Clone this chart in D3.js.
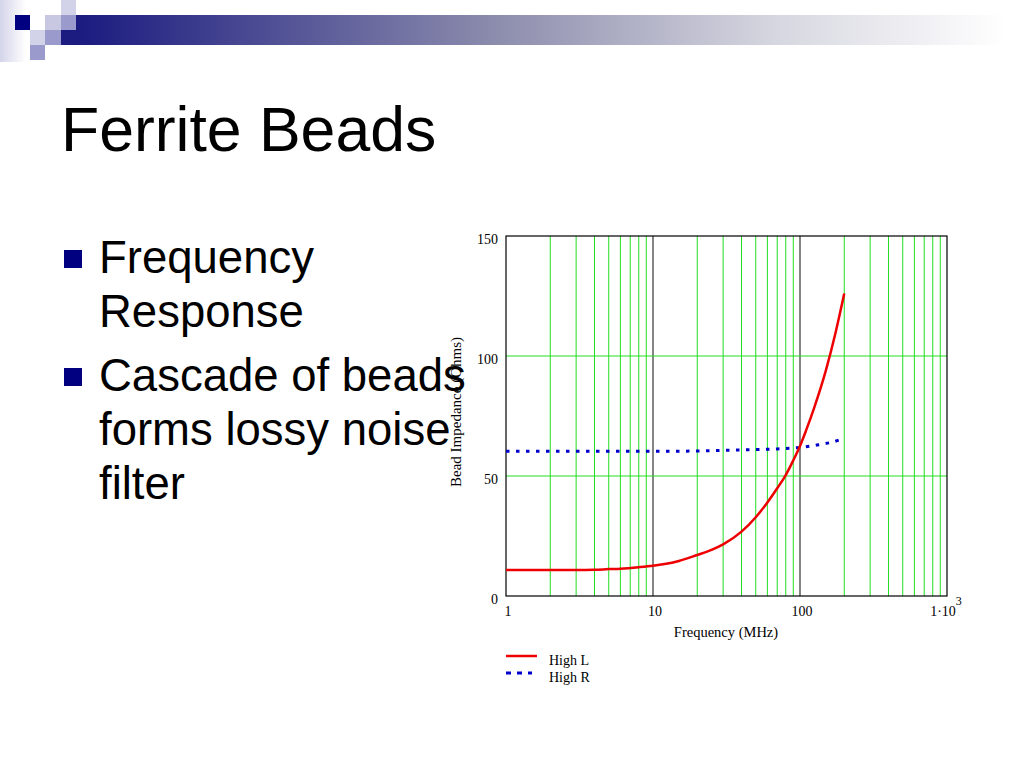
<!DOCTYPE html>
<html>
<head>
<meta charset="utf-8">
<script src="https://cdn.jsdelivr.net/npm/d3@7"></script>
<style>
  html, body { margin: 0; padding: 0; background: #fff; }
  svg { display: block; }
</style>
</head>
<body>
<svg id="slide" width="1024" height="768"></svg>
<script>
// data
const freqL = [1, 2, 3, 4, 5, 6, 8, 10, 12, 15, 20, 25, 30, 40, 50, 60, 70, 80, 90, 100, 110, 125, 150, 175, 200];
const highL = [10.8, 10.8, 10.8, 10.9, 11.2, 11.4, 12.0, 12.6, 13.3, 14.6, 17.1, 19.2, 21.5, 26.8, 32.8, 39.0, 44.9, 50.4, 56.5, 62.5, 69, 78.5, 94, 110, 126];
const freqR = [1, 5, 10, 20, 30, 50, 70, 100, 130, 160, 185];
const highR = [60.3, 60.3, 60.3, 60.4, 60.7, 61.0, 61.3, 61.9, 62.9, 63.9, 65.0];
const yTicks = [0, 50, 100, 150];
const xTicks = [1, 10, 100, 1000];
const seriesNames = ["High L", "High R"];
const bullets = [
  ["Frequency", "Response"],
  ["Cascade of beads", "forms lossy noise", "filter"]
];

const svg = d3.select("#slide");
const defs = svg.append("defs");

// ---- slide decoration (header bar + squares) ----
const barGrad = defs.append("linearGradient").attr("id", "bar").attr("x1", 0).attr("x2", 1).attr("y1", 0).attr("y2", 0);
barGrad.append("stop").attr("offset", 0).attr("stop-color", "#1a1a80");
barGrad.append("stop").attr("offset", 0.45).attr("stop-color", "#8c8cad");
barGrad.append("stop").attr("offset", 0.75).attr("stop-color", "#d6d6e0");
barGrad.append("stop").attr("offset", 1).attr("stop-color", "#ffffff");

const edgeGrad = defs.append("linearGradient").attr("id", "edge").attr("x1", 0).attr("x2", 1).attr("y1", 0).attr("y2", 0);
edgeGrad.append("stop").attr("offset", 0).attr("stop-color", "#d4d4ea");
edgeGrad.append("stop").attr("offset", 1).attr("stop-color", "#ffffff");

svg.append("rect").attr("x", 0).attr("y", 0).attr("width", 26).attr("height", 62).attr("fill", "url(#edge)");
svg.append("rect").attr("x", 76).attr("y", 15).attr("width", 930).attr("height", 30).attr("fill", "url(#bar)");

const squares = [
  [61, 0, "#d2d2e8"], [15, 15, "#000080"], [45, 15, "#c8c8e2"], [61, 15, "#9a9acc"],
  [30, 30, "#d2d2e8"], [45, 30, "#9a9acc"], [61, 30, "#1c1c80"], [30, 45, "#9a9acc"]
];
svg.selectAll("rect.sq").data(squares).join("rect")
  .attr("class", "sq")
  .attr("x", d => d[0]).attr("y", d => d[1])
  .attr("width", d => (d[0] === 45 ? 16 : 15)).attr("height", 15)
  .attr("fill", d => d[2]);

// ---- chart ----
const x = d3.scaleLog().domain([1, 1000]).range([506, 947]);
const y = d3.scaleLinear().domain([0, 150]).range([596, 236]);
const chart = svg.append("g");

// minor vertical grid lines (green) and decade lines (dark)
const minor = [];
[1, 10, 100].forEach(dec => { for (let k = 2; k <= 9; k++) minor.push(dec * k); });
chart.selectAll("line.vminor").data(minor).join("line")
  .attr("x1", d => x(d)).attr("x2", d => x(d))
  .attr("y1", y(0)).attr("y2", y(150))
  .attr("stroke", "#22dd22").attr("stroke-width", 1);
chart.selectAll("line.vmajor").data([10, 100]).join("line")
  .attr("class", "vmajor")
  .attr("x1", d => x(d)).attr("x2", d => x(d))
  .attr("y1", y(0)).attr("y2", y(150))
  .attr("stroke", "#333").attr("stroke-width", 1.2);
chart.selectAll("line.hgrid").data([50, 100]).join("line")
  .attr("class", "hgrid")
  .attr("x1", x(1)).attr("x2", x(1000))
  .attr("y1", d => y(d)).attr("y2", d => y(d))
  .attr("stroke", "#22dd22").attr("stroke-width", 1);
chart.append("rect")
  .attr("x", x(1)).attr("y", y(150))
  .attr("width", x(1000) - x(1)).attr("height", y(0) - y(150))
  .attr("fill", "none").attr("stroke", "#000").attr("stroke-width", 1.2);

// tick labels
const serif = "'Liberation Serif', 'Times New Roman', serif";
chart.selectAll("text.ytick").data(yTicks).join("text")
  .attr("class", "ytick")
  .attr("x", x(1) - 8).attr("y", d => y(d) + 8)
  .attr("text-anchor", "end")
  .attr("font-family", serif).attr("font-size", 14)
  .text(d => d);
const xt = chart.selectAll("text.xtick").data(xTicks).join("text")
  .attr("class", "xtick")
  .attr("x", d => x(d) + (d === 1000 ? -1 : 2)).attr("y", 616)
  .attr("text-anchor", "middle")
  .attr("font-family", serif).attr("font-size", 14)
  .text(d => (d === 1000 ? "1\u00b710" : d));
xt.filter(d => d === 1000).append("tspan")
  .attr("dy", -11).attr("font-size", 12).text("3");

chart.append("text")
  .attr("x", 726).attr("y", 637)
  .attr("text-anchor", "middle")
  .attr("font-family", serif).attr("font-size", 14.5)
  .text("Frequency (MHz)");
chart.append("text")
  .attr("transform", "translate(461,412) rotate(-90)")
  .attr("text-anchor", "middle")
  .attr("font-family", serif).attr("font-size", 15)
  .text("Bead Impedance (Ohms)");

// curves
const line = d3.line()
  .x(d => x(d[0])).y(d => y(d[1]))
  .curve(d3.curveMonotoneX);
chart.append("path")
  .datum(d3.zip(freqR, highR))
  .attr("d", line)
  .attr("fill", "none").attr("stroke", "#0000cc")
  .attr("stroke-width", 3).attr("stroke-dasharray", "3.5,6.5");
chart.append("path")
  .datum(d3.zip(freqL, highL))
  .attr("d", line)
  .attr("fill", "none").attr("stroke", "#ee0000")
  .attr("stroke-width", 2.5);

// legend
const legend = chart.append("g");
const lg = legend.selectAll("g").data(seriesNames).join("g")
  .attr("transform", (d, i) => `translate(506, ${656 + i * 17})`);
lg.append("line")
  .attr("x1", 0).attr("x2", (d, i) => (i === 0 ? 31 : 26)).attr("y1", 0).attr("y2", 0)
  .attr("stroke", (d, i) => (i === 0 ? "#ee0000" : "#0000cc"))
  .attr("stroke-width", (d, i) => (i === 0 ? 2.5 : 3))
  .attr("stroke-dasharray", (d, i) => (i === 0 ? null : "5,6"));
lg.append("text")
  .attr("x", 43).attr("y", 9)
  .attr("font-family", serif).attr("font-size", 14)
  .text(d => d);

// ---- slide text ----
const sans = "'Liberation Sans', Arial, sans-serif";
svg.append("text")
  .attr("x", 61).attr("y", 151)
  .attr("font-family", sans).attr("font-size", 62.5)
  .text("Ferrite Beads");

let lineY = 273;
bullets.forEach((group, gi) => {
  svg.append("rect")
    .attr("x", 64).attr("y", lineY - 23)
    .attr("width", 18).attr("height", 18)
    .attr("fill", "#000080");
  group.forEach(t => {
    svg.append("text")
      .attr("x", 99).attr("y", lineY)
      .attr("font-family", sans).attr("font-size", 45.5)
      .text(t);
    lineY += 54;
  });
  lineY += 10;
});
</script>
</body>
</html>
